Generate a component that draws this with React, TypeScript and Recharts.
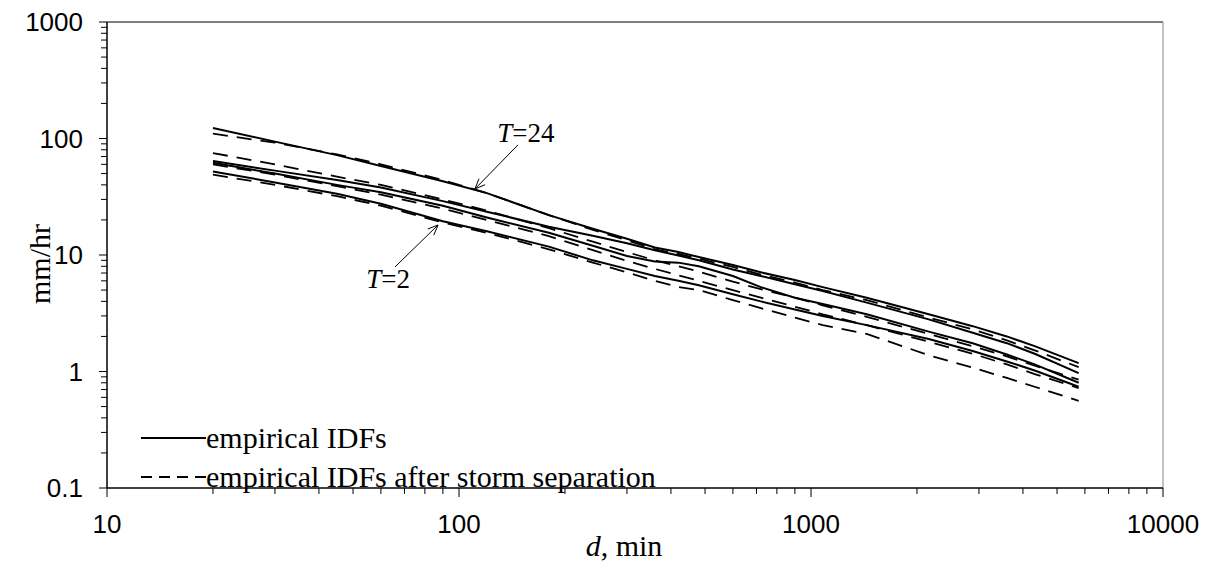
import React from 'react'
import { LineChart, Line, XAxis, YAxis, ReferenceLine } from 'recharts'

// durations, min
const durations = [20, 30, 45, 60, 90, 120, 180, 240, 300, 360, 420, 480, 600, 720, 900, 1080, 1440, 2160, 2880, 3600, 4320, 5760]

// empirical IDFs (solid), mm/hr
const solidT24 = [123, 94, 72, 58, 43, 34, 22, 16.8, 13.8, 11.6, 10.6, 9.6, 8.2, 7.1, 6.1, 5.3, 4.3, 3.1, 2.45, 2.0, 1.65, 1.18]
const solidB = [64, 53, 44, 38, 29, 23.5, 17.5, 14.6, 12.6, 11.0, 9.9, 9.0, 7.5, 6.6, 5.6, 4.9, 3.9, 2.8, 2.15, 1.75, 1.42, 0.97]
const solidC = [62, 50, 40, 34.5, 26.5, 21, 15.5, 12, 9.8, 8.8, 8.6, 8.0, 6.6, 5.3, 4.3, 3.8, 3.1, 2.2, 1.75, 1.4, 1.15, 0.8]
const solidT2 = [52, 42, 33.5, 27.5, 19.5, 16, 11.8, 9.0, 7.6, 6.6, 6.0, 5.5, 4.6, 4.0, 3.4, 3.0, 2.5, 1.9, 1.5, 1.22, 1.02, 0.74]

// empirical IDFs after storm separation (dashed), mm/hr
const dashT24 = [110, 92, 73, 60, 44, 34, 22, 16.4, 13.4, 11.2, 10.2, 9.3, 7.9, 6.8, 5.8, 5.0, 4.1, 2.9, 2.3, 1.85, 1.52, 1.09]
const dashB = [75, 60, 47, 40, 30, 24, 17, 13, 10.6, 9.0, 8.0, 7.2, 5.9, 5.1, 4.3, 3.7, 2.95, 2.1, 1.65, 1.35, 1.12, 0.85]
const dashC = [60, 49, 39, 33, 25, 20, 14.5, 11, 8.9, 7.6, 6.7, 6.0, 5.0, 4.3, 3.6, 3.1, 2.5, 1.8, 1.42, 1.15, 0.95, 0.72]
const dashT2 = [49, 40, 32, 26.5, 19, 15.5, 11.2, 8.6, 7.1, 6.0, 5.3, 5.0, 4.1, 3.5, 2.9, 2.5, 2.1, 1.38, 1.08, 0.88, 0.74, 0.56]

const xMajor = [10, 100, 1000, 10000]
const yMajor = [0.1, 1, 10, 100, 1000]
const xLabels = ['10', '100', '1000', '10000']
const yLabels = ['0.1', '1', '10', '100', '1000']

const minorOf = (majors: number[]) => {
  const out: number[] = []
  majors.forEach((m, i) => {
    out.push(m)
    if (i < majors.length - 1) for (let k = 2; k <= 9; k++) out.push(m * k)
  })
  return out
}

const rows = durations.map((d, i) => ({
  d,
  s24: solidT24[i],
  sB: solidB[i],
  sC: solidC[i],
  s2: solidT2[i],
  d24: dashT24[i],
  dB: dashB[i],
  dC: dashC[i],
  d2: dashT2[i],
}))

const sans = '"Liberation Sans", Arial, sans-serif'
const serif = '"Liberation Serif", "Times New Roman", serif'

const XTick = (props: any) => {
  const { x, y, payload } = props
  const idx = xMajor.indexOf(payload.value)
  return (
    <g>
      <line x1={x} y1={y} x2={x} y2={y + (idx >= 0 ? 9 : 6)} stroke="#000" strokeWidth={1} />
      {idx >= 0 && (
        <text x={x} y={y + 36} textAnchor="middle" dominantBaseline="central" fontSize={26} fontFamily={sans} fill="#000">
          {xLabels[idx]}
        </text>
      )}
    </g>
  )
}

const YTick = (props: any) => {
  const { x, y, payload } = props
  const idx = yMajor.indexOf(payload.value)
  return (
    <g>
      <line x1={x - (idx >= 0 ? 8 : 6)} y1={y} x2={x} y2={y} stroke="#000" strokeWidth={1} />
      {idx >= 0 && (
        <text x={x - 24} y={y} textAnchor="end" dominantBaseline="central" fontSize={26} fontFamily={sans} fill="#000">
          {yLabels[idx]}
        </text>
      )}
    </g>
  )
}

const arrow = (label: string, dx: number, dy: number) => (p: any) => {
  const { x1, y1, x2, y2 } = p
  const a = Math.atan2(y2 - y1, x2 - x1)
  const h = 11
  return (
    <g>
      <line x1={x1} y1={y1} x2={x2} y2={y2} stroke="#000" strokeWidth={1} />
      <polyline
        points={`${x2 - h * Math.cos(a - 0.4)},${y2 - h * Math.sin(a - 0.4)} ${x2},${y2} ${x2 - h * Math.cos(a + 0.4)},${y2 - h * Math.sin(a + 0.4)}`}
        fill="none"
        stroke="#000"
        strokeWidth={1}
      />
      <text x={x1 + dx} y={y1 + dy} textAnchor="middle" dominantBaseline="central" fontSize={27} fontFamily={serif} fill="#000">
        <tspan fontStyle="italic">T</tspan>={label}
      </text>
    </g>
  )
}

export default function App() {
  return (
    <div style={{ position: 'relative', width: 1208, height: 555, background: '#fff' }}>
      <LineChart width={1208} height={555} data={rows} margin={{ top: 14, right: 53, left: 0, bottom: 0 }}>
        <XAxis
          dataKey="d"
          type="number"
          scale="log"
          domain={[10, 10000]}
          ticks={minorOf(xMajor)}
          interval={0}
          allowDataOverflow
          height={75}
          tickSize={0}
          tickMargin={0}
          tickLine={false}
          axisLine={{ stroke: '#000', strokeWidth: 1.5 }}
          tick={<XTick />}
        />
        <YAxis
          type="number"
          scale="log"
          domain={[0.1, 1000]}
          ticks={minorOf(yMajor)}
          interval={0}
          allowDataOverflow
          width={99}
          tickSize={0}
          tickMargin={0}
          tickLine={false}
          axisLine={{ stroke: '#000', strokeWidth: 1.5 }}
          tick={<YTick />}
        />
        <ReferenceLine y={1000} stroke="#000" strokeWidth={1} />
        <ReferenceLine x={10000} stroke="#888" strokeWidth={1} />

        <Line dataKey="s24" stroke="#000" strokeWidth={2} dot={false} isAnimationActive={false} />
        <Line dataKey="sB" stroke="#000" strokeWidth={2} dot={false} isAnimationActive={false} />
        <Line dataKey="sC" stroke="#000" strokeWidth={2} dot={false} isAnimationActive={false} />
        <Line dataKey="s2" stroke="#000" strokeWidth={2} dot={false} isAnimationActive={false} />
        <Line dataKey="d24" stroke="#000" strokeWidth={1.8} strokeDasharray="15 9" dot={false} isAnimationActive={false} />
        <Line dataKey="dB" stroke="#000" strokeWidth={1.8} strokeDasharray="15 9" dot={false} isAnimationActive={false} />
        <Line dataKey="dC" stroke="#000" strokeWidth={1.8} strokeDasharray="15 9" dot={false} isAnimationActive={false} />
        <Line dataKey="d2" stroke="#000" strokeWidth={1.8} strokeDasharray="15 9" dot={false} isAnimationActive={false} />

        <ReferenceLine segment={[{ x: 147, y: 88 }, { x: 111, y: 36.9 }]} shape={arrow('24', 8, -12)} />
        <ReferenceLine segment={[{ x: 65.8, y: 7.9 }, { x: 87.2, y: 18.1 }]} shape={arrow('2', -7, 12)} />
      </LineChart>

      <div style={{ position: 'absolute', left: 0, top: 249, width: 64, textAlign: 'center', transform: 'rotate(-90deg)', fontFamily: serif, fontSize: 30, lineHeight: '30px', whiteSpace: 'nowrap' }}>
        mm/hr
      </div>
      <div style={{ position: 'absolute', left: 566, top: 521, width: 100, textAlign: 'center', fontFamily: serif, fontSize: 30, lineHeight: '34px', whiteSpace: 'nowrap' }}>
        <i>d</i>, min
      </div>

      <div style={{ position: 'absolute', left: 133, top: 410, fontFamily: serif, fontSize: 30, lineHeight: '39px' }}>
        <div style={{ display: 'flex', alignItems: 'center', whiteSpace: 'nowrap' }}>
          <svg width={65} height={10}><line x1={0} y1={5} x2={65} y2={5} stroke="#000" strokeWidth={2} /></svg>
          <span>empirical IDFs</span>
        </div>
        <div style={{ display: 'flex', alignItems: 'center', whiteSpace: 'nowrap' }}>
          <svg width={65} height={10}><line x1={0} y1={5} x2={65} y2={5} stroke="#000" strokeWidth={2} strokeDasharray="11 7" /></svg>
          <span>empirical IDFs after storm separation</span>
        </div>
      </div>
    </div>
  )
}
